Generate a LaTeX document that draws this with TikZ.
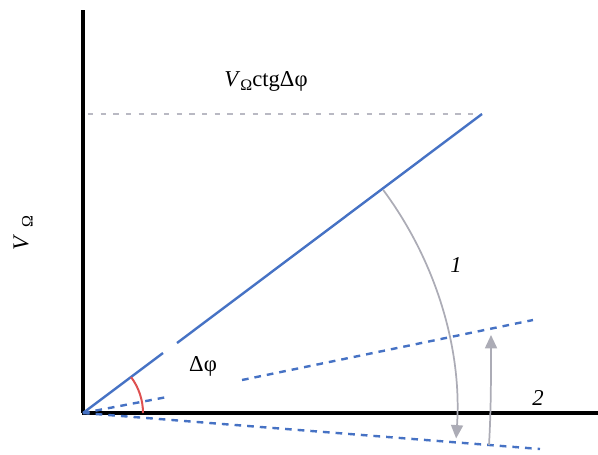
\documentclass[tikz,border=0pt]{standalone}
\usepackage{fontspec}
\setmainfont{Liberation Serif}
\usetikzlibrary{arrows.meta}
\definecolor{lineblue}{RGB}{70,114,196}
\definecolor{arrowgray}{RGB}{172,172,182}
\definecolor{dashgray}{RGB}{185,185,195}
\definecolor{arcred}{RGB}{222,80,80}
\begin{document}
\begin{tikzpicture}[x=0.75pt,y=-0.75pt,
  axis/.style={line width=2.4pt,black},
  bluesolid/.style={line width=1.8pt,lineblue},
  bluedash/.style={line width=1.8pt,lineblue,dash pattern=on 5pt off 4.5pt},
  graydash/.style={line width=1.4pt,dashgray,dash pattern=on 4pt off 5.5pt},
  grayarrow/.style={line width=1.3pt,arrowgray,-{Triangle[length=10pt,width=9pt]}},
  lbl/.style={font=\fontsize{17}{19}\selectfont,inner sep=0pt}]
\useasboundingbox (0,0) rectangle (598,454);
% named points
\coordinate (O) at (83,413);
\coordinate (ytop) at (83,10);
\coordinate (xend) at (598,413);
\coordinate (P) at (482,114);
\coordinate (hstart) at (88,114);
\coordinate (gapA) at (163,353);
\coordinate (gapB) at (177,343);
\coordinate (d1) at (167,397);
\coordinate (d2a) at (242,380);
\coordinate (d2b) at (533,320);
\coordinate (d3) at (540,449);
\coordinate (a2s) at (489,445);
\coordinate (a2e) at (491,335);
% axes
\draw[axis] (O) -- (ytop);
\draw[axis] ([xshift=-1pt]O) -- (xend);
% gray dashed horizontal
\draw[graydash] (hstart) -- (P);
% blue line with gap
\draw[bluesolid] (O) -- (gapA);
\draw[bluesolid] (gapB) -- (P);
% dashed blue lines
\draw[bluedash] (O) -- (d1);
\draw[bluedash] (d2a) -- (d2b);
\draw[bluedash] (O) -- (d3);
% red angle arc
\draw[arcred,line width=1.5pt] (O) ++(0:60) arc[start angle=0,end angle=-36.8,radius=60];
% gray arc arrows
\draw[grayarrow] (O) ++(-36.6:374) arc[start angle=-36.6,end angle=3.9,radius=374];
\draw[grayarrow] (a2s) .. controls (491,410) and (491,380) .. (a2e);
% labels
\node[lbl] (vlab) at (266,81) {\textit{V}\raisebox{-0.4ex}{\fontsize{12}{14}\selectfont Ω}ctgΔφ};
\node[lbl,rotate=90] (ylab) at (23,233) {\textit{V}\raisebox{-0.4ex}{\fontsize{12}{14}\selectfont\, Ω}};
\node[lbl] (dphi) at (203,366) {Δφ};
\node[lbl] (one) at (456,265) {\textit{1}};
\node[lbl] (two) at (538,398) {\textit{2}};
\end{tikzpicture}
\end{document}
